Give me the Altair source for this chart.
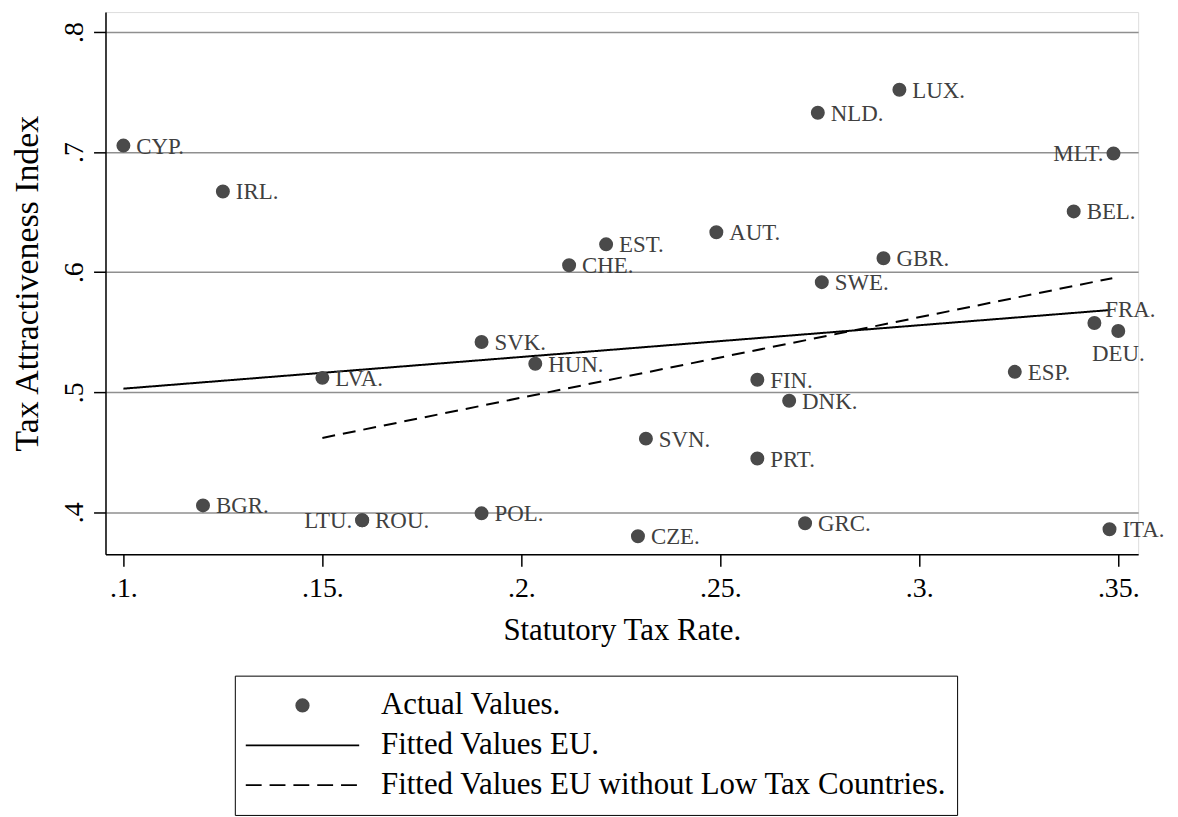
import altair as alt
import pandas as pd

FONT = "Liberation Serif"

countries = ["CYP", "IRL", "BGR", "LVA", "LTU", "ROU", "SVK", "HUN", "POL", "CHE",
             "EST", "SVN", "CZE", "AUT", "FIN", "PRT", "DNK", "GRC", "NLD", "SWE",
             "GBR", "LUX", "ESP", "BEL", "MLT", "FRA", "DEU", "ITA"]
tax_rate = [0.100, 0.125, 0.120, 0.150, 0.160, 0.160, 0.190, 0.2035, 0.190, 0.212,
            0.2213, 0.2313, 0.2293, 0.249, 0.2593, 0.2593, 0.2673, 0.2713, 0.2745, 0.2755,
            0.291, 0.295, 0.324, 0.3388, 0.3488, 0.344, 0.350, 0.3478]
tax_index = [0.7054, 0.6672, 0.4058, 0.512, 0.3934, 0.3934, 0.5419, 0.5237, 0.3992, 0.6058,
             0.6232, 0.4614, 0.3801, 0.6332, 0.5104, 0.4448, 0.4929, 0.3909, 0.7328, 0.5917,
             0.6116, 0.7519, 0.517, 0.6506, 0.6988, 0.5577, 0.551, 0.3859]
label_side = ["right", "right", "right", "right", "left", "right", "right", "right", "right", "right",
              "right", "right", "right", "right", "right", "right", "right", "right", "right", "right",
              "right", "right", "right", "right", "left", "above", "below", "right"]

series_names = ["Actual Values.", "Fitted Values EU.", "Fitted Values EU without Low Tax Countries."]

fit_eu_rate = [0.100, 0.348]
fit_eu_index = [0.503, 0.5685]
fit_low_rate = [0.150, 0.3485]
fit_low_index = [0.462, 0.595]

x_ticks = [0.1, 0.15, 0.2, 0.25, 0.3, 0.35]
y_ticks = [0.4, 0.5, 0.6, 0.7, 0.8]

points = pd.DataFrame({
    "country": countries,
    "label": [c + "." for c in countries],
    "rate": tax_rate,
    "index": tax_index,
    "side": label_side,
    "series": series_names[0],
})
lines = pd.DataFrame({
    "rate": fit_eu_rate + fit_low_rate,
    "index": fit_eu_index + fit_low_index,
    "series": [series_names[1]] * 2 + [series_names[2]] * 2,
})

x_scale = alt.Scale(domain=[0.0955, 0.355], nice=False, zero=False)
y_scale = alt.Scale(domain=[0.3651, 0.8166], nice=False, zero=False)

x_axis = alt.Axis(
    values=x_ticks,
    labelExpr="substring(format(datum.value, '.2~f'), 1) + '.'",
    title="Statutory Tax Rate.",
    grid=False, tickSize=12, tickWidth=1.5, tickColor="black",
    domainColor="black", domainWidth=1.5,
    labelFont=FONT, labelFontSize=28, labelColor="black", labelPadding=8, labelFlush=False,
    titleFont=FONT, titleFontSize=31, titleFontWeight="normal", titleColor="black", titlePadding=14,
)
y_axis = alt.Axis(
    values=y_ticks,
    labelExpr="substring(format(datum.value, '.1f'), 1)",
    title="Tax Attractiveness Index",
    grid=True, gridColor="#8f8f8f", gridWidth=1.5,
    tickSize=12, tickWidth=1.5, tickColor="black",
    domainColor="black", domainWidth=1.5,
    labelFont=FONT, labelFontSize=28, labelColor="black", labelPadding=11,
    labelAngle=270, labelAlign="center", labelBaseline="alphabetic", labelFlush=False,
    titleFont=FONT, titleFontSize=34, titleFontWeight="normal", titleColor="black", titlePadding=16,
)

circle_path = "M-0.11,0A0.11,0.11,0,1,1,0.11,0A0.11,0.11,0,1,1,-0.11,0Z"
solid_path = "M-1,0H1"
dash_path = "M-1,0H-0.72M-0.58,0H-0.3M-0.16,0H0.12M0.26,0H0.54M0.68,0H0.96"
SYM = 12996

legend = alt.Legend(
    title=None, orient="none", legendX=130, legendY=667, direction="vertical",
    symbolSize=SYM, clipHeight=40, rowPadding=0, labelOffset=21, padding=10,
    strokeColor="black", labelFont=FONT, labelFontSize=31, labelColor="black",
    labelLimit=1000, symbolStrokeWidth=1.8,
)

base_pts = alt.Chart(points)
pts = base_pts.mark_point(filled=True, opacity=1, size=SYM, strokeWidth=1.5).encode(
    x=alt.X("rate:Q", scale=x_scale, axis=x_axis),
    y=alt.Y("index:Q", scale=y_scale, axis=y_axis),
    shape=alt.Shape("series:N", scale=alt.Scale(domain=series_names, range=[circle_path, solid_path, dash_path]), legend=legend),
    fill=alt.Fill("series:N", scale=alt.Scale(domain=series_names, range=["#4a4a4a", "black", "black"]), legend=legend),
    stroke=alt.Stroke("series:N", scale=alt.Scale(domain=series_names, range=["#4a4a4a", "black", "black"]), legend=legend),
)

txt_kw = dict(font=FONT, fontSize=23, color="#404040", baseline="alphabetic")
enc_txt = dict(x=alt.X("rate:Q"), y=alt.Y("index:Q"), text="label:N")
t_right = base_pts.mark_text(align="left", dx=13, dy=8, **txt_kw).encode(**enc_txt).transform_filter("datum.side == 'right'")
t_left = base_pts.mark_text(align="right", dx=-10, dy=8, **txt_kw).encode(**enc_txt).transform_filter("datum.side == 'left'")
t_above = base_pts.mark_text(align="left", dx=11, dy=-6, **txt_kw).encode(**enc_txt).transform_filter("datum.side == 'above'")
t_below = base_pts.mark_text(align="center", dx=0, dy=30, **txt_kw).encode(**enc_txt).transform_filter("datum.side == 'below'")

fit = alt.Chart(lines).mark_line(color="black", strokeWidth=2).encode(
    x=alt.X("rate:Q"),
    y=alt.Y("index:Q"),
    strokeDash=alt.StrokeDash("series:N", scale=alt.Scale(domain=series_names[1:], range=[[1, 0], [13, 8]]), legend=None),
    detail="series:N",
)

chart = alt.layer(fit, pts, t_right, t_left, t_above, t_below).properties(
    width=1038, height=545,
    padding={"left": 3, "top": 2, "right": 5, "bottom": 0},
).configure_view(stroke=None).configure(background="white")

chart.save("out.html", embed_options={"renderer": "svg", "actions": False})
